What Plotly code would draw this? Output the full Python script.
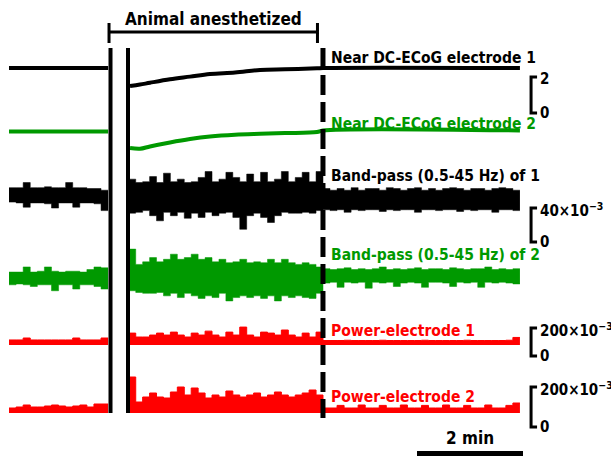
import numpy as np
import plotly.graph_objects as go

W, H = 611, 456
PX_PER_MIN = 53.0          # horizontal scale: pixels per minute of recording

# ---- timeline (minutes, display time with a break during induction) ----
PRE_START, PRE_END = 0.17, 2.04
BREAK_1, BREAK_2 = 2.085, 2.415
POST_START = 2.43
ANESTH_END = 6.094
REC_END = 9.81
BRACKET_START, BRACKET_END = 2.057, 5.99
LABEL_T = 6.215
TIME_BAR_START, TIME_BAR_LEN = 7.868, 2.0
SCALE_T = 10.02

# ---- DC-ECoG (mV, relative to pre-anaesthesia level) ----
DC_T_POST = [2.453, 2.642, 2.830, 3.208, 3.585, 3.962, 4.434, 4.906, 5.377, 5.981]
DC1_PRE = [0.0, 0.0]
DC1_POST = [-1.00, -0.92, -0.82, -0.63, -0.48, -0.33, -0.25, -0.11, -0.07, -0.02]
DC1_AFTER = [0.0, 0.0]
DC2_PRE = [0.0, 0.0]
DC2_POST = [-0.92, -0.96, -0.83, -0.61, -0.42, -0.28, -0.18, -0.13, -0.09, -0.03]
DC2_AFTER = [0.06, 0.06]

# ---- band-pass (0.5-45 Hz) envelopes, x10^-3 ----
BP1_PRE_HI = [11, 11, 17, 11, 11, 12, 11, 11, 17, 11, 11, 10, 10, 8]
BP1_PRE_LO = [-6, -7, -12, -7, -7, -8, -13, -7, -7, -12, -7, -7, -8, -16]
BP1_POST_HI = [21, 17, 18, 24, 17, 28, 18, 21, 17, 18, 23, 30, 18, 21, 29, 23, 18, 27, 18, 29, 18, 21, 30, 18, 23, 29, 18, 30]
BP1_POST_LO = [-19, -18, -16, -22, -28, -18, -22, -18, -25, -19, -24, -18, -22, -19, -18, -24, -38, -22, -19, -24, -30, -22, -18, -19, -19, -18, -19, -16]
BP1_AFTER_HI = [10, 8, 10, 8, 11, 8, 10, 10, 8, 11, 10, 8, 10, 11, 8, 10, 8, 10, 11, 10, 8, 10, 10, 8, 10, 11, 10, 8]
BP1_AFTER_LO = [-15, -16, -15, -18, -15, -16, -15, -15, -17, -15, -16, -15, -15, -18, -15, -15, -16, -15, -15, -17, -15, -16, -15, -15, -18, -15, -15, -16]

BP2_PRE_HI = [7, 7, 13, 7, 8, 13, 8, 7, 8, 8, 7, 10, 13, 12]
BP2_PRE_LO = [-8, -7, -8, -10, -8, -8, -15, -8, -8, -13, -8, -8, -10, -13]
BP2_POST_HI = [34, 16, 19, 24, 19, 22, 28, 22, 24, 28, 22, 24, 19, 22, 18, 19, 22, 18, 19, 18, 22, 18, 22, 18, 16, 18, 16, 13]
BP2_POST_LO = [-15, -17, -18, -18, -17, -21, -18, -23, -18, -21, -24, -21, -23, -18, -27, -23, -21, -23, -21, -24, -21, -27, -21, -23, -21, -23, -24, -18]
BP2_AFTER_HI = [11, 10, 11, 12, 10, 11, 10, 11, 13, 10, 11, 10, 11, 12, 10, 11, 11, 10, 12, 11, 10, 11, 11, 13, 10, 11, 10, 11]
BP2_AFTER_LO = [-6, -5, -11, -5, -6, -5, -12, -5, -6, -5, -10, -6, -5, -6, -11, -5, -5, -6, -10, -5, -6, -5, -11, -5, -6, -5, -6, -7]

# ---- band power, x10^-3 ----
PW1_PRE = [36, 36, 50, 36, 36, 36, 36, 36, 36, 50, 36, 36, 36, 50]
PW1_POST = [85, 57, 57, 71, 85, 71, 92, 71, 57, 85, 71, 99, 71, 57, 92, 71, 128, 71, 57, 92, 85, 71, 107, 71, 57, 85, 57, 92]
PW1_AFTER = [32, 32, 32, 34, 32, 32, 32, 32, 34, 32, 32, 32, 32, 32, 34, 32, 32, 32, 32, 32, 34, 32, 32, 32, 32, 32, 34, 54]
PW2_PRE = [25, 30, 40, 30, 30, 35, 40, 35, 30, 35, 40, 30, 45, 45]
PW2_POST = [180, 55, 80, 100, 80, 75, 105, 130, 90, 125, 100, 75, 90, 80, 110, 90, 80, 90, 100, 80, 90, 105, 90, 80, 90, 100, 115, 90]
PW2_AFTER = [25, 25, 38, 25, 25, 40, 25, 25, 38, 25, 25, 40, 25, 25, 38, 25, 25, 40, 25, 25, 38, 25, 25, 40, 25, 25, 38, 50]

LABELS = ["Near DC-ECoG electrode 1", "Near DC-ECoG electrode 2",
          "Band-pass (0.5-45 Hz) of 1", "Band-pass (0.5-45 Hz) of 2",
          "Power-electrode 1", "Power-electrode 2"]
SCALE_TOPS = [2, 40e-3, 200e-3, 200e-3]
SCALE_TEXT = ["2", "40×10<sup>−3</sup>", "200×10<sup>−3</sup>", "200×10<sup>−3</sup>"]

BLACK, GREEN, RED = "#000000", "#009900", "#ff0000"
FONT = "DejaVu Sans Condensed, DejaVu Sans, sans-serif"

# vertical placement of each stacked channel: baseline pixel row, pixels per unit
ZERO_PX = [68, 131.5, 197, 278, 345, 413]
PPU = [18, 18, 850, 850, 140, 200]
BAR_ZERO_PX = [113, 242, 356, 427]
BAR_PPU = [18, 850, 140, 200]
COLORS = [BLACK, GREEN, BLACK, GREEN, RED, RED]


def yrange(zero_px, ppu):
    return [(zero_px - H) / ppu, zero_px / ppu]


def paper_y(px):
    return 1 - px / H


def steps(t0, t1, vals):
    t = np.linspace(t0, t1, len(vals) + 1)
    return t, np.append(vals, vals[-1])


def late_steps(post, after):
    t = np.concatenate([np.linspace(POST_START, ANESTH_END, len(post), endpoint=False),
                        np.linspace(ANESTH_END, REC_END, len(after) + 1)])
    return t, np.concatenate([post, after, [after[-1]]])


fig = go.Figure()


def yname(i):
    return "y" if i == 0 else f"y{i + 1}"


# DC channels
for i, (pre, post, after) in enumerate([(DC1_PRE, DC1_POST, DC1_AFTER),
                                        (DC2_PRE, DC2_POST, DC2_AFTER)]):
    fig.add_trace(go.Scatter(x=[PRE_START, PRE_END], y=pre, mode="lines",
                             line=dict(color=COLORS[i], width=4), yaxis=yname(i)))
    tx = DC_T_POST + [ANESTH_END, REC_END]
    fig.add_trace(go.Scatter(x=tx, y=list(post) + list(after), mode="lines",
                             line=dict(color=COLORS[i], width=4, shape="spline"),
                             yaxis=yname(i)))

# band-pass channels drawn as filled envelopes
bp = [(BP1_PRE_HI, BP1_PRE_LO, BP1_POST_HI, BP1_POST_LO, BP1_AFTER_HI, BP1_AFTER_LO),
      (BP2_PRE_HI, BP2_PRE_LO, BP2_POST_HI, BP2_POST_LO, BP2_AFTER_HI, BP2_AFTER_LO)]
for k, (ph, pl, qh, ql, ah, al) in enumerate(bp):
    i = 2 + k
    c = COLORS[i]
    segs = [steps(PRE_START, PRE_END, np.array(pl) * 1e-3) + steps(PRE_START, PRE_END, np.array(ph) * 1e-3),
            late_steps(np.array(ql) * 1e-3, np.array(al) * 1e-3) + late_steps(np.array(qh) * 1e-3, np.array(ah) * 1e-3)]
    for tl, yl, th, yh in segs:
        fig.add_trace(go.Scatter(x=tl, y=yl, mode="lines", line=dict(color=c, width=0.5, shape="hv"),
                                 yaxis=yname(i)))
        fig.add_trace(go.Scatter(x=th, y=yh, mode="lines", line=dict(color=c, width=0.5, shape="hv"),
                                 fill="tonexty", fillcolor=c, yaxis=yname(i)))

# power channels
for k, (pre, post, after) in enumerate([(PW1_PRE, PW1_POST, PW1_AFTER), (PW2_PRE, PW2_POST, PW2_AFTER)]):
    i = 4 + k
    for t, y in [steps(PRE_START, PRE_END, np.array(pre) * 1e-3),
                 late_steps(np.array(post) * 1e-3, np.array(after) * 1e-3)]:
        fig.add_trace(go.Scatter(x=t, y=y, mode="lines", line=dict(color=RED, width=1, shape="hv"),
                                 fill="tozeroy", fillcolor=RED, yaxis=yname(i)))

shapes = []
# induction break and end of anaesthesia
for t in (BREAK_1, BREAK_2):
    shapes.append(dict(type="line", xref="x", yref="paper", x0=t, x1=t,
                       y0=paper_y(48), y1=paper_y(413), line=dict(color=BLACK, width=4)))
shapes.append(dict(type="line", xref="x", yref="paper", x0=ANESTH_END, x1=ANESTH_END,
                   y0=paper_y(48), y1=paper_y(418), line=dict(color=BLACK, width=5, dash="20px,7px")))
# "Animal anesthetized" bracket
bt, bm, bb = paper_y(23), paper_y(32), paper_y(43)
shapes.append(dict(type="path", xref="x", yref="paper",
                   path=f"M{BRACKET_START},{bt} L{BRACKET_START},{bb} M{BRACKET_START},{bm} L{BRACKET_END},{bm} "
                        f"M{BRACKET_END},{bt} L{BRACKET_END},{bb}",
                   line=dict(color=BLACK, width=3)))
# time scale bar
shapes.append(dict(type="line", xref="x", yref="paper", x0=TIME_BAR_START, x1=TIME_BAR_START + TIME_BAR_LEN,
                   y0=paper_y(453.5), y1=paper_y(453.5), line=dict(color=BLACK, width=5)))
# amplitude scale bars
tick = 6 / PX_PER_MIN
for j, top in enumerate(SCALE_TOPS):
    yr = f"y{7 + j}"
    shapes.append(dict(type="path", xref="x", yref=yr,
                       path=f"M{SCALE_T + tick},{top} L{SCALE_T},{top} L{SCALE_T},0 L{SCALE_T + tick},0",
                       line=dict(color=BLACK, width=3)))

annotations = []
label_shift = [10, 8, 21, 23, 14, 16]
for i, text in enumerate(LABELS):
    annotations.append(dict(x=LABEL_T, y=0, xref="x", yref=yname(i), xanchor="left", yanchor="middle",
                            yshift=label_shift[i], text=f"<b>{text}</b>", showarrow=False,
                            font=dict(family=FONT, size=15.5, color=COLORS[i])))
for j, top in enumerate(SCALE_TOPS):
    yr = f"y{7 + j}"
    annotations.append(dict(x=SCALE_T + 7 / PX_PER_MIN, y=top, xref="x", yref=yr, xanchor="left",
                            yanchor="middle", yshift=-2, text=f"<b>{SCALE_TEXT[j]}</b>", showarrow=False,
                            font=dict(family=FONT, size=15, color=BLACK)))
    annotations.append(dict(x=SCALE_T + 7 / PX_PER_MIN, y=0, xref="x", yref=yr, xanchor="left",
                            yanchor="middle", yshift=0, text="<b>0</b>", showarrow=False,
                            font=dict(family=FONT, size=15, color=BLACK)))
annotations.append(dict(x=(BRACKET_START + BRACKET_END) / 2, y=paper_y(19), xref="x", yref="paper",
                        text="<b>Animal anesthetized</b>", showarrow=False, yanchor="middle",
                        font=dict(family=FONT, size=17, color=BLACK)))
annotations.append(dict(x=TIME_BAR_START + TIME_BAR_LEN / 2, y=paper_y(438), xref="x", yref="paper",
                        text="<b>2 min</b>", showarrow=False, yanchor="middle",
                        font=dict(family=FONT, size=17, color=BLACK)))

layout = dict(
    width=W, height=H, autosize=False,
    margin=dict(l=0, r=0, t=0, b=0, pad=0),
    paper_bgcolor="white", plot_bgcolor="white",
    showlegend=False,
    xaxis=dict(range=[0, W / PX_PER_MIN], visible=False, fixedrange=True),
    shapes=shapes, annotations=annotations,
)
for i in range(6):
    key = "yaxis" if i == 0 else f"yaxis{i + 1}"
    ax = dict(range=yrange(ZERO_PX[i], PPU[i]), domain=[0, 1], visible=False, fixedrange=True)
    if i > 0:
        ax["overlaying"] = "y"
    layout[key] = ax
for j in range(4):
    layout[f"yaxis{7 + j}"] = dict(range=yrange(BAR_ZERO_PX[j], BAR_PPU[j]), domain=[0, 1],
                                   visible=False, fixedrange=True, overlaying="y")

fig.update_layout(**layout)
fig.write_html("out.html", config=dict(displayModeBar=False))
